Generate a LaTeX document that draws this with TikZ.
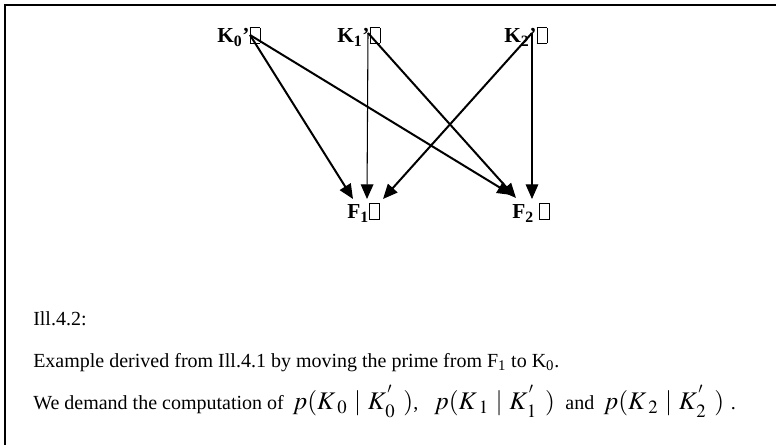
\documentclass[tikz,border=0pt]{standalone}
\usepackage{mathptmx}
\usepackage[no-math]{fontspec}
\setmainfont{Liberation Serif}
\usepackage{tikz}
\usetikzlibrary{arrows.meta}
\newcommand{\gbox}{{\setlength{\fboxsep}{0pt}\setlength{\fboxrule}{0.5pt}\fbox{\rule{0pt}{0.7em}\hspace{0.45em}}}}
% conditional probability as set in the original, with wide spacing
\newcommand{\cprob}[1]{{\fontsize{19}{21}\selectfont$p(K_{\hspace{3pt}#1}\hspace{5pt}|\hspace{5pt}K^{\hspace{1pt}'}_{\hspace{1pt}#1}\hspace{6pt})$}}

\begin{document}
\begin{tikzpicture}[x=0.75pt,y=-0.75pt,
  font=\fontsize{15}{18}\selectfont,
  var/.style={font=\fontsize{16}{18}\selectfont\bfseries,inner sep=0pt,anchor=base west},
  txt/.style={inner sep=0pt,anchor=base west},
  arr/.style={-{Triangle[length=11pt,width=9.5pt]},line width=1.5pt},
  varr/.style={-{Triangle[length=11pt,width=9.5pt]},line width=0.8pt}
]
\useasboundingbox (0,0) rectangle (776,445);
\draw[line width=1.5pt] (5,445) -- (5,5) -- (776,5);

% variables
\node[var] (k0) at (217,43) {K\textsubscript{0}'\gbox};
\node[var] (k1) at (337,43) {K\textsubscript{1}'\gbox};
\node[var] (k2) at (504,43) {K\textsubscript{2}'\gbox};
\node[var] (f1) at (347,219) {F\textsubscript{1}\gbox};
\node[var] (f2) at (512,219) {F\textsubscript{2} \gbox};

\coordinate (k0o) at (250,35);
\coordinate (k1o) at (368,33);
\coordinate (k2o) at (532,33);
\coordinate (f1a) at (353,199);
\coordinate (f1b) at (367,199);
\coordinate (f1c) at (383,199);
\coordinate (f2a) at (512,195);
\coordinate (f2b) at (516,198);
\coordinate (f2c) at (532,199);

\draw[arr] (k0o) -- (f1a);
\draw[arr] (k0o) -- (f2a);
\draw[varr] (k1o) -- (f1b);
\draw[arr] (k1o) -- (f2b);
\draw[arr] (k2o) -- (f1c);
\draw[varr] (k2o) -- (f2c);

% caption
\node[txt] (cap1) at (33,326) {Ill.4.2:};
\node[txt] (cap2) at (33,368) {Example derived from Ill.4.1 by moving the prime from F\textsubscript{1} to K\textsubscript{0}.};
\node[txt] (cap3) at (33,410) {We demand the computation of\hspace{3pt} \cprob{0},\hspace{12pt}\cprob{1}\hspace{8pt}and\hspace{7pt}\cprob{2}\hspace{5pt}.};
\end{tikzpicture}
\end{document}
